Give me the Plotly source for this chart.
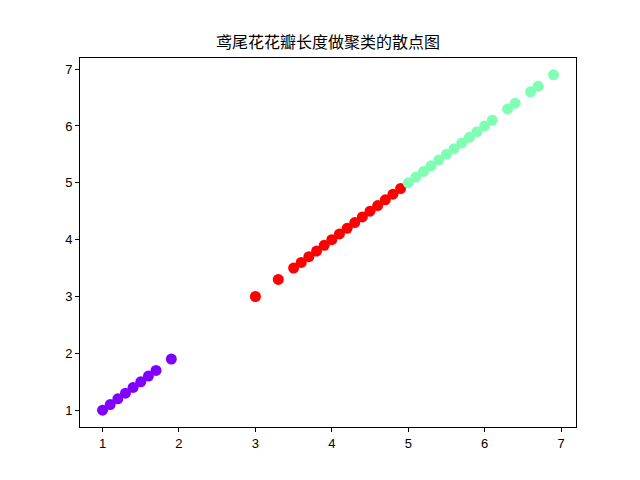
import plotly.graph_objects as go

# cluster values (petal length, plotted against itself)
cluster_purple = [1.0, 1.1, 1.2, 1.3, 1.4, 1.5, 1.6, 1.7, 1.9]
cluster_red = [3.0, 3.3, 3.5, 3.6, 3.7, 3.8, 3.9, 4.0, 4.1, 4.2, 4.3, 4.4, 4.5, 4.6, 4.7, 4.8, 4.9]
cluster_green = [5.0, 5.1, 5.2, 5.3, 5.4, 5.5, 5.6, 5.7, 5.8, 5.9, 6.0, 6.1, 6.3, 6.4, 6.6, 6.7, 6.9]
tick_vals = [1, 2, 3, 4, 5, 6, 7]
title_text = "鸢尾花花瓣长度做聚类的散点图"

fig = go.Figure()
for vals, color in [(cluster_purple, "#8000ff"), (cluster_red, "#ff0000"), (cluster_green, "#80ffb4")]:
    fig.add_trace(go.Scatter(x=vals, y=vals, mode="markers",
                             marker=dict(size=11, color=color, line=dict(width=0)),
                             showlegend=False))

axis_common = dict(range=[0.705, 7.195], tickvals=tick_vals, ticks="outside", ticklen=4,
                   tickwidth=1, tickcolor="black", showline=True, linecolor="black",
                   linewidth=1, mirror=True, showgrid=False, zeroline=False, automargin=False,
                   tickfont=dict(family="Liberation Sans, Arial", size=13, color="black"))

# page body adds an 8px offset, so margins are shifted to compensate
fig.update_layout(
    width=640, height=480,
    margin=dict(l=72, r=72, t=50, b=61),
    paper_bgcolor="white", plot_bgcolor="white",
    title=dict(text=title_text, x=(328 - 8) / 640, xanchor="center", y=1 - 34 / 480, yanchor="middle",
               font=dict(family="Noto Sans CJK SC", size=16, color="black")),
    xaxis=axis_common, yaxis=axis_common,
)
fig.write_html("out.html")
